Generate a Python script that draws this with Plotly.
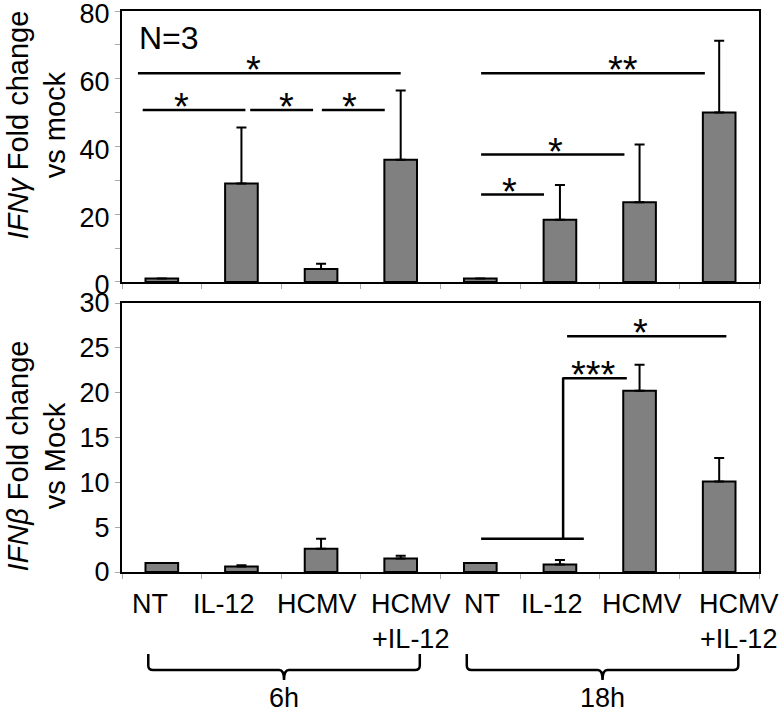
import plotly.graph_objects as go

# ---------------- data ----------------
CATEGORIES = ["NT", "IL-12", "HCMV", "HCMV<br>+IL-12",
              "NT", "IL-12", "HCMV", "HCMV<br>+IL-12"]
GROUP_LABELS = ["6h", "18h"]
GROUP_MEMBERS = [(0, 3), (4, 7)]

IFNG_MEAN = [1.0, 29.1, 3.8, 36.1, 1.0, 18.4, 23.5, 50.0]
IFNG_ERR = [0.0, 16.5, 1.6, 20.4, 0.0, 10.2, 17.1, 21.2]
IFNB_MEAN = [1.0, 0.6, 2.6, 1.5, 1.0, 0.85, 20.2, 10.1]
IFNB_ERR = [0.0, 0.15, 1.1, 0.3, 0.0, 0.5, 2.9, 2.6]

IFNG_TICKS = [0, 20, 40, 60, 80]
IFNB_TICKS = [0, 5, 10, 15, 20, 25, 30]

# significance bars: (label, x_start, x_end, level, label_x)
SIG_IFNG = [("*", -0.30, 3.00, 61.6, 1.15),
            ("*", -0.24, 1.05, 50.8, 0.25),
            ("*", 1.11, 1.90, 50.8, 1.57),
            ("*", 2.01, 2.80, 50.8, 2.36),
            ("**", 4.01, 6.82, 61.6, 5.79),
            ("*", 4.01, 5.81, 37.6, 4.95),
            ("*", 4.01, 4.80, 25.8, 4.37)]
SIG_IFNB = [("*", 5.09, 7.09, 26.3, 6.01)]
# elbow bracket: low bar, riser, top bar
ELBOW_IFNB = dict(low=(4.01, 5.30, 3.7), riser=(5.04, 3.7, 21.7),
                  top=(5.04, 5.84, 21.6), label="***", label_x=5.42)

# horizontal nudges (px) of the category labels, as typeset in the original
LABEL_NUDGE = [-12, -17, -4, 10, 2, -8, 2, 20]

FONT = "Arial, Liberation Sans, sans-serif"
X = list(range(len(CATEGORIES)))

fig = go.Figure()

for vals, errs, xa, ya in [(IFNG_MEAN, IFNG_ERR, "x", "y"),
                          (IFNB_MEAN, IFNB_ERR, "x2", "y2")]:
    fig.add_trace(go.Bar(
        x=X, y=vals, xaxis=xa, yaxis=ya, width=0.41,
        marker=dict(color="#808080", line=dict(color="black", width=2)),
        error_y=dict(type="data", array=errs, arrayminus=[0] * len(errs),
                     symmetric=False, color="black", thickness=2, width=5),
        showlegend=False, hoverinfo="y"))

shapes = []
annotations = []
LW = 2.5


def star(xr, yr, x, y, txt):
    annotations.append(dict(xref=xr, yref=yr, x=x, y=y, text=txt,
                            showarrow=False, yanchor="bottom", yshift=-20,
                            font=dict(family=FONT, size=38, color="black")))


for lab, x0, x1, lvl, lx in SIG_IFNG:
    shapes.append(dict(type="line", xref="x", yref="y", x0=x0, x1=x1,
                       y0=lvl, y1=lvl, line=dict(color="black", width=LW)))
    star("x", "y", lx, lvl, lab)
for lab, x0, x1, lvl, lx in SIG_IFNB:
    shapes.append(dict(type="line", xref="x2", yref="y2", x0=x0, x1=x1,
                       y0=lvl, y1=lvl, line=dict(color="black", width=LW)))
    star("x2", "y2", lx, lvl, lab)

e = ELBOW_IFNB
shapes.append(dict(type="line", xref="x2", yref="y2", x0=e["low"][0], x1=e["low"][1],
                   y0=e["low"][2], y1=e["low"][2], line=dict(color="black", width=LW)))
shapes.append(dict(type="line", xref="x2", yref="y2", x0=e["riser"][0], x1=e["riser"][0],
                   y0=e["riser"][1], y1=e["riser"][2], line=dict(color="black", width=LW)))
shapes.append(dict(type="line", xref="x2", yref="y2", x0=e["top"][0], x1=e["top"][1],
                   y0=e["top"][2], y1=e["top"][2], line=dict(color="black", width=LW)))
star("x2", "y2", e["label_x"], e["top"][2], e["label"])

# category labels under the bottom panel
for xi, (lab, nudge) in enumerate(zip(CATEGORIES, LABEL_NUDGE)):
    annotations.append(dict(xref="x2", yref="paper", x=xi, y=-0.0267, text=lab,
                            showarrow=False, yanchor="top", xanchor="center",
                            xshift=nudge, align="center",
                            font=dict(family=FONT, size=27, color="black")))

# group braces below the bottom axis
Y_END, Y_MID, Y_TIP, Y_LAB = -0.146, -0.1747, -0.1925, -0.2246
RY, RX = 0.008, 0.06
for lab, (a, b) in zip(GROUP_LABELS, GROUP_MEMBERS):
    x0, x1 = a - 0.17, b + 0.24
    xm = (x0 + x1) / 2
    path = (f"M {x0},{Y_END} L {x0},{Y_MID + RY} Q {x0},{Y_MID} {x0 + RX},{Y_MID} "
            f"L {xm - RX},{Y_MID} Q {xm},{Y_MID} {xm},{Y_TIP} "
            f"Q {xm},{Y_MID} {xm + RX},{Y_MID} L {x1 - RX},{Y_MID} "
            f"Q {x1},{Y_MID} {x1},{Y_MID + RY} L {x1},{Y_END}")
    shapes.append(dict(type="path", xref="x2", yref="paper", path=path,
                       line=dict(color="black", width=2.5)))
    annotations.append(dict(xref="x2", yref="paper", x=xm, y=Y_LAB, text=lab,
                            showarrow=False, yanchor="middle",
                            font=dict(family=FONT, size=27, color="black")))

annotations.append(dict(xref="x domain", yref="y domain", x=0.024, y=0.974,
                        xanchor="left", yanchor="top", text="N=3", showarrow=False,
                        font=dict(family=FONT, size=32, color="black")))

for txt, yc in [("<i>IFNγ</i> Fold change<br>vs mock", 0.797),
                ("<i>IFNβ</i> Fold change<br>vs Mock", 0.207)]:
    annotations.append(dict(xref="paper", yref="paper", x=-0.134, y=yc, text=txt,
                            textangle=-90, showarrow=False, xanchor="center",
                            yanchor="middle",
                            font=dict(family=FONT, size=29, color="black")))

xcommon = dict(range=[-0.5, 7.5], showline=True, mirror=True, linecolor="black",
               linewidth=2, showgrid=False, zeroline=False, tickvals=X,
               ticks="", showticklabels=False, automargin=False,
               minor=dict(tickvals=[i - 0.5 for i in range(len(X) + 1)],
                          ticks="outside", ticklen=5, tickcolor="#aaaaaa",
                          tickwidth=1, showgrid=False))
ycommon = dict(showline=True, mirror=True, linecolor="black", linewidth=2,
               showgrid=False, zeroline=False, ticks="outside", ticklen=5,
               tickcolor="#aaaaaa", tickwidth=1, automargin=False,
               ticklabeloverflow="allow",
               tickfont=dict(family=FONT, size=27, color="black"))

fig.update_layout(
    width=784, height=716,
    margin=dict(l=122, r=25, t=11, b=144),
    paper_bgcolor="white", plot_bgcolor="white",
    xaxis=dict(domain=[0, 1], anchor="y", **xcommon),
    yaxis=dict(domain=[0.517, 1], anchor="x", range=[0, 80], tickvals=IFNG_TICKS,
               ticklabelshift=3,
               minor=dict(dtick=10, tick0=0, ticks="outside", ticklen=5,
                          tickcolor="#aaaaaa", tickwidth=1), **ycommon),
    xaxis2=dict(domain=[0, 1], anchor="y2", **xcommon),
    yaxis2=dict(domain=[0, 0.4795], anchor="x2", range=[0, 30], tickvals=IFNB_TICKS,
                **ycommon),
    shapes=shapes, annotations=annotations, bargap=0.59,
)

fig.write_html("out.html", config={"displayModeBar": False},
               post_script="document.body.style.margin='0px';")
